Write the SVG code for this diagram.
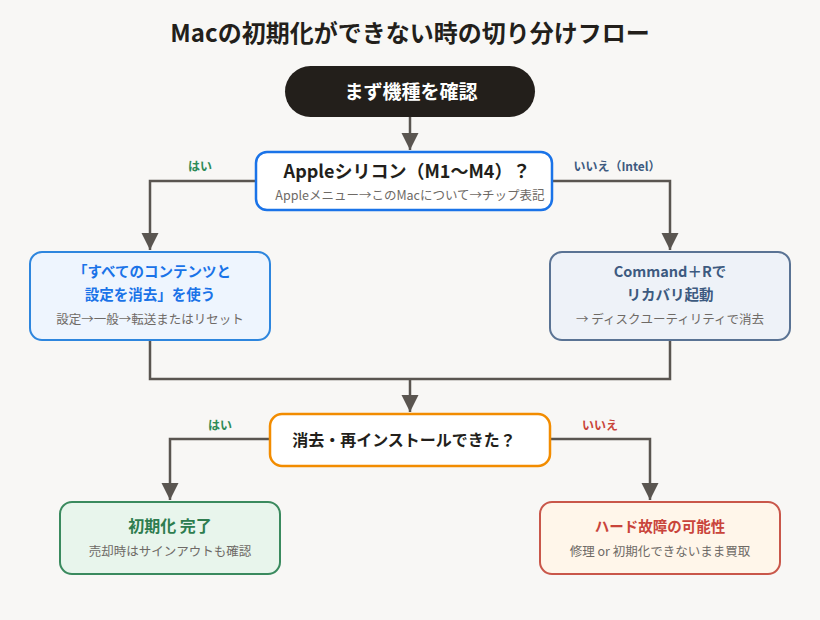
<svg xmlns="http://www.w3.org/2000/svg" width="820" height="620" viewBox="0 0 820 620">
<defs>
<marker id="ah" viewBox="0 0 10 10" refX="10" refY="5" markerWidth="7" markerHeight="7" markerUnits="strokeWidth" orient="auto">
<path d="M0,0 L10,5 L0,10 z" fill="#5a5550"/>
</marker>
<style>
text{font-family:"Noto Sans CJK JP","Noto Sans",sans-serif;text-anchor:middle}
.t{font-size:24px;font-weight:700;fill:#231f1b}
.h{font-weight:700}
.s{font-size:12.5px;fill:#6e6a66}
.lab{font-size:12px;font-weight:700}
.ln{fill:none;stroke:#5a5550;stroke-width:2.5}
</style>
</defs>
<rect width="820" height="620" fill="#f8f7f5"/>
<text class="t" x="410" y="42">Macの初期化ができない時の切り分けフロー</text>
<g id="connectors">
<path class="ln" d="M410,117 V150" marker-end="url(#ah)"/>
<path class="ln" d="M256,181 H150 V250" marker-end="url(#ah)"/>
<path class="ln" d="M552,181 H670 V250" marker-end="url(#ah)"/>
<path class="ln" d="M150,340 V379 H670 V340"/>
<path class="ln" d="M410,379 V412" marker-end="url(#ah)"/>
<path class="ln" d="M270,439 H170 V500" marker-end="url(#ah)"/>
<path class="ln" d="M550,439 H650 V500" marker-end="url(#ah)"/>
<text class="lab" x="200" y="171" fill="#2e8b57">はい</text>
<text class="lab" x="617" y="171" fill="#3d5a80">いいえ（Intel）</text>
<text class="lab" x="220" y="430" fill="#2e8b57">はい</text>
<text class="lab" x="600" y="430" fill="#c9443a">いいえ</text>
</g>
<g id="start">
<rect x="285" y="66" width="250" height="51" rx="25.5" fill="#231f1b"/>
<text class="h" x="411" y="99" fill="#fff" style="font-size:19px">まず機種を確認</text>
</g>
<g id="q1">
<rect x="256" y="152" width="296" height="58" rx="11" fill="#fff" stroke="#1a73e8" stroke-width="2.5"/>
<text class="h" x="407" y="178" fill="#231f1b" style="font-size:18px">Appleシリコン（M1〜M4）？</text>
<text class="s" x="410" y="200">Appleメニュー→このMacについて→チップ表記</text>
</g>
<g id="erase">
<rect x="30" y="252" width="240" height="88" rx="12" fill="#eef5fe" stroke="#2e86de" stroke-width="2"/>
<text class="h" x="152" y="277" fill="#1a73e8" style="font-size:14.5px">「すべてのコンテンツと</text>
<text class="h" x="150" y="300" fill="#1a73e8" style="font-size:14.5px">設定を消去」を使う</text>
<text class="s" x="150" y="324">設定→一般→転送またはリセット</text>
</g>
<g id="recovery">
<rect x="550" y="252" width="240" height="88" rx="12" fill="#eef2f8" stroke="#5a7394" stroke-width="2"/>
<text class="h" x="670" y="277" fill="#3d5a80" style="font-size:14.5px">Command＋Rで</text>
<text class="h" x="670" y="300" fill="#3d5a80" style="font-size:14.5px">リカバリ起動</text>
<text class="s" x="670" y="324">→ ディスクユーティリティで消去</text>
</g>
<g id="q2">
<rect x="270" y="414" width="280" height="52" rx="12" fill="#fff" stroke="#f28c00" stroke-width="2.5"/>
<text class="h" x="404" y="446" fill="#231f1b" style="font-size:16px">消去・再インストールできた？</text>
</g>
<g id="done">
<rect x="60" y="502" width="220" height="72" rx="12" fill="#e8f5ec" stroke="#3a8a5e" stroke-width="2"/>
<text class="h" x="170" y="532" fill="#2e7d4f" style="font-size:16px">初期化 完了</text>
<text class="s" x="170" y="556">売却時はサインアウトも確認</text>
</g>
<g id="hw">
<rect x="540" y="502" width="240" height="72" rx="12" fill="#fff6ea" stroke="#c9574a" stroke-width="2"/>
<text class="h" x="660" y="532" fill="#c9443a" style="font-size:14.5px">ハード故障の可能性</text>
<text class="s" x="660" y="556">修理 or 初期化できないまま買取</text>
</g>
</svg>
